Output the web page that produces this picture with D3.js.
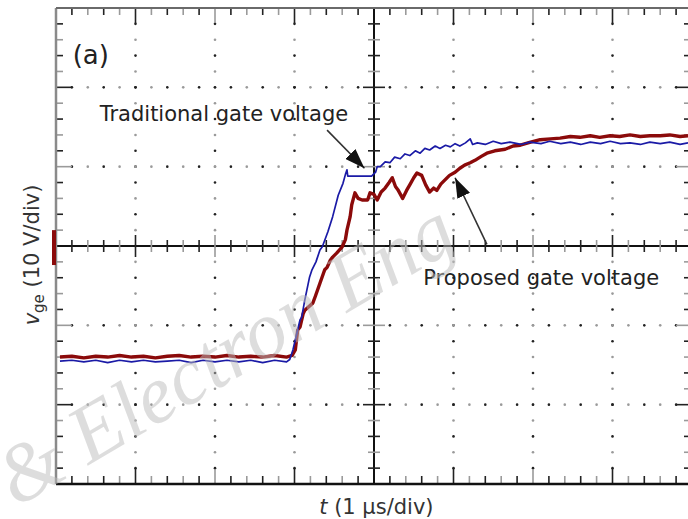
<!DOCTYPE html>
<html>
<head>
<meta charset="utf-8">
<script src="https://cdn.jsdelivr.net/npm/d3@7"></script>
<style>
  body { margin: 0; background: #fff; }
  svg { display: block; }
</style>
</head>
<body>
<div id="container"></div>
<script>
/* DATA (t in µs, v in volts) */
// traditional gate voltage (blue)
const blueT = [-3.95,-3.8,-3.65,-3.5,-3.35,-3.2,-3.05,-2.9,-2.75,-2.6,-2.45,-2.3,-2.15,-2.0,-1.85,-1.7,-1.55,-1.4,-1.25,-1.1,
  -1.06,-1.02,-0.97,-0.93,-0.91,-0.87,-0.81,-0.78,-0.73,-0.68,-0.65,-0.58,-0.52,-0.45,-0.39,-0.36,-0.34,-0.33,-0.03,
  0.02,0.04,0.08,0.14,0.20,0.26,0.33,0.39,0.45,0.52,0.58,0.64,0.70,0.77,0.83,0.90,0.96,1.02,1.08,1.15,1.21,1.24,1.30,
  1.40,1.50,1.60,1.71,1.85,1.96,2.10,2.21,2.35,2.47,2.60,2.72,2.85,2.97,3.10,3.22,3.35,3.47,3.60,3.72,3.85,3.95]
const blueV = [-14.5,-14.4,-14.6,-14.4,-14.7,-14.4,-14.6,-14.4,-14.6,-14.5,-14.4,-14.7,-14.4,-14.6,-14.4,-14.6,-14.4,-14.7,-14.4,-14.6,
  -14.3,-13.1,-11.0,-9.3,-9.0,-6.8,-3.9,-3.0,-2.0,-0.5,-0.1,1.8,3.7,6.4,7.9,9.0,9.6,8.8,8.8,
  9.3,10.0,10.0,10.6,10.5,11.2,11.0,11.6,11.4,12.0,11.7,12.3,12.1,12.6,12.3,12.7,12.5,12.9,12.6,13.0,13.5,12.8,13.0,
  12.8,13.2,12.9,13.1,12.8,13.1,12.9,13.2,12.9,13.1,12.8,13.1,12.9,13.2,12.9,13.0,12.8,13.1,12.9,13.1,12.8,13.0]

// proposed gate voltage (dark red)
const redT = [-3.95,-3.8,-3.65,-3.5,-3.35,-3.2,-3.05,-2.9,-2.75,-2.6,-2.45,-2.3,-2.15,-2.0,-1.85,-1.7,-1.55,-1.4,-1.25,-1.1,
  -1.03,-0.99,-0.96,-0.93,-0.89,-0.87,-0.77,-0.74,-0.68,-0.62,-0.59,-0.55,-0.52,-0.47,-0.40,-0.36,-0.34,-0.30,-0.28,-0.24,
  -0.20,-0.15,-0.08,-0.05,0.00,0.04,0.09,0.14,0.19,0.23,0.27,0.30,0.36,0.41,0.45,0.50,0.54,0.60,0.65,0.70,0.75,0.79,0.84,
  0.89,0.95,1.02,1.08,1.14,1.21,1.27,1.35,1.42,1.52,1.65,1.75,1.84,1.97,2.09,2.22,2.34,2.47,2.59,2.72,2.84,2.97,3.09,
  3.22,3.35,3.47,3.60,3.72,3.85,3.95]
const redV = [-14.0,-13.9,-14.1,-13.9,-14.0,-13.8,-14.0,-13.9,-14.1,-13.9,-13.8,-14.0,-13.9,-14.0,-13.8,-14.0,-13.9,-14.0,-13.8,-14.0,
  -13.8,-13.1,-10.6,-10.2,-8.5,-8.1,-7.2,-6.4,-4.7,-3.0,-2.7,-1.8,-1.4,-0.9,-0.1,0.8,2.0,3.7,5.2,6.7,
  6.0,5.8,5.8,6.7,6.5,5.8,6.8,7.3,8.0,8.6,7.5,7.1,6.0,7.0,7.7,8.6,9.2,8.9,7.7,6.8,7.3,7.0,7.8,
  8.3,8.9,9.3,9.8,10.2,10.5,10.8,11.3,11.7,12.0,12.2,12.6,12.7,13.1,13.4,13.5,13.6,13.8,13.7,13.9,13.7,13.9,13.8,
  14.0,13.8,13.9,13.9,14.0,13.8,13.9]

// screen divisions: 1 µs/div horizontally, 10 V/div vertically
const tDivs = [-4,-3,-2,-1,0,1,2,3,4]
const vDivs = [-30,-20,-10,0,10,20,30]

/* CONSTANTS */
const width = 688
const height = 519
const margin = { top: 8, bottom: 35, left: 56, right: -4 }

/* SCALES */
const xScale = d3.scaleLinear()
  .domain([-4, 4])
  .range([margin.left, width - margin.right])

const yScale = d3.scaleLinear()
  .domain([-30, 30])
  .range([height - margin.bottom, margin.top])

// 5 sub-divisions per division
const tMinor = d3.range(0, 41).map(i => -4 + i * 0.2)
const vMinor = d3.range(0, 31).map(i => -30 + i * 2)
const dark = "#222", light = "#9a9a9a"

/* SVG */
const svg = d3.select("#container")
  .append("svg")
  .attr("width", width)
  .attr("height", height)

svg.append("defs").append("marker")
  .attr("id", "head")
  .attr("markerUnits", "userSpaceOnUse")
  .attr("markerWidth", 20).attr("markerHeight", 14)
  .attr("refX", 20).attr("refY", 7)
  .attr("orient", "auto")
  .append("path")
  .attr("d", "M0,0 L20,7 L0,14 Z")
  .attr("fill", "#111")

const x0 = xScale(-4), x1 = xScale(4), y0 = yScale(-30), y1 = yScale(30)

// grid dots on the inner division lines
const grid = svg.append("g")
vDivs.filter(v => v !== -30 && v !== 0 && v !== 30).forEach(v => {
  grid.selectAll(null)
    .data(tMinor.map((t, i) => ({ t, i })).filter(d => d.i > 0 && d.i < 40))
    .join("circle")
    .attr("cx", d => xScale(d.t))
    .attr("cy", yScale(v))
    .attr("r", 1.3)
    .attr("fill", d => d.i % 2 ? dark : light)
})
tDivs.filter(t => t !== -4 && t !== 0 && t !== 4).forEach(t => {
  grid.selectAll(null)
    .data(vMinor.map((v, i) => ({ v, i })).filter(d => d.i > 0 && d.i < 30))
    .join("circle")
    .attr("cx", xScale(t))
    .attr("cy", d => yScale(d.v))
    .attr("r", 1.3)
    .attr("fill", d => d.i % 2 ? dark : light)
})

// border ticks pointing inwards
const ticks = svg.append("g")
const tTicks = tMinor.map((t, i) => ({ t, i, major: i % 5 === 0 })).filter(d => d.i > 0 && d.i < 40)
const vTicks = vMinor.map((v, i) => ({ v, i, major: i % 5 === 0 })).filter(d => d.i > 0 && d.i < 30)

ticks.selectAll(".tt")
  .data(tTicks)
  .join("line")
  .attr("x1", d => xScale(d.t)).attr("x2", d => xScale(d.t))
  .attr("y1", y1).attr("y2", d => y1 + (d.major ? 15 : 7))
  .attr("stroke", d => d.i % 2 ? dark : light).attr("stroke-width", 1.6)
ticks.selectAll(".tb")
  .data(tTicks)
  .join("line")
  .attr("x1", d => xScale(d.t)).attr("x2", d => xScale(d.t))
  .attr("y1", y0).attr("y2", d => y0 - (d.major ? 15 : 8))
  .attr("stroke", d => d.i % 2 ? dark : light).attr("stroke-width", 1.6)
ticks.selectAll(".vl")
  .data(vTicks)
  .join("line")
  .attr("y1", d => yScale(d.v)).attr("y2", d => yScale(d.v))
  .attr("x1", x0).attr("x2", d => x0 + (d.major ? 16 : 7))
  .attr("stroke", d => d.i % 2 ? dark : light).attr("stroke-width", 1.6)
ticks.selectAll(".vr")
  .data(vTicks)
  .join("line")
  .attr("y1", d => yScale(d.v)).attr("y2", d => yScale(d.v))
  .attr("x1", x1).attr("x2", d => x1 - (d.major ? 16 : 8))
  .attr("stroke", d => d.i % 2 ? dark : light).attr("stroke-width", 1.6)

// centre cross axes
ticks.append("line")
  .attr("x1", x0).attr("x2", x1)
  .attr("y1", yScale(0)).attr("y2", yScale(0))
  .attr("stroke", "#111").attr("stroke-width", 2)
ticks.append("line")
  .attr("x1", xScale(0)).attr("x2", xScale(0))
  .attr("y1", y1).attr("y2", y0)
  .attr("stroke", "#111").attr("stroke-width", 2)
ticks.selectAll(".ch")
  .data(tTicks)
  .join("line")
  .attr("x1", d => xScale(d.t)).attr("x2", d => xScale(d.t))
  .attr("y1", d => yScale(0) - (d.major ? 11 : 6)).attr("y2", d => yScale(0) + (d.major ? 11 : 6))
  .attr("stroke", d => d.i % 2 ? dark : light).attr("stroke-width", 1.6)
ticks.selectAll(".cv")
  .data(vTicks)
  .join("line")
  .attr("y1", d => yScale(d.v)).attr("y2", d => yScale(d.v))
  .attr("x1", d => xScale(0) - (d.major ? 11 : 6)).attr("x2", d => xScale(0) + (d.major ? 11 : 6))
  .attr("stroke", d => d.i % 2 ? dark : light).attr("stroke-width", 1.6)

// frame
svg.append("line").attr("x1", x0).attr("x2", x0).attr("y1", y1).attr("y2", y0)
  .attr("stroke", "#8a8a8a").attr("stroke-width", 2.5)
svg.append("line").attr("x1", x0).attr("x2", x1).attr("y1", y1).attr("y2", y1)
  .attr("stroke", "#6a6a6a").attr("stroke-width", 2)
svg.append("line").attr("x1", x0).attr("x2", x1).attr("y1", y0).attr("y2", y0)
  .attr("stroke", "#111").attr("stroke-width", 2.5)

// channel ground marker
svg.append("line")
  .attr("x1", x0 - 2).attr("x2", x0 - 2)
  .attr("y1", yScale(2)).attr("y2", yScale(-2.4))
  .attr("stroke", "#8b0a0a").attr("stroke-width", 4)

/* TRACES */
const line = d3.line()
  .x(d => xScale(d[0]))
  .y(d => yScale(d[1]))

svg.append("path")
  .datum(redT.map((t, i) => [t, redV[i]]))
  .attr("d", line)
  .attr("fill", "none")
  .attr("stroke", "#8b0a0a")
  .attr("stroke-width", 3.4)
  .attr("stroke-linejoin", "round")

svg.append("path")
  .datum(blueT.map((t, i) => [t, blueV[i]]))
  .attr("d", line)
  .attr("fill", "none")
  .attr("stroke", "#1a1aa6")
  .attr("stroke-width", 1.7)
  .attr("stroke-linejoin", "round")

/* ANNOTATIONS */
const font = "DejaVu Sans, Verdana, sans-serif"

svg.append("text")
  .attr("x", xScale(-3.79)).attr("y", yScale(22.9))
  .attr("font-family", font).attr("font-size", 26).attr("fill", "#222")
  .text("(a)")

svg.append("text")
  .attr("x", xScale(-3.45)).attr("y", yScale(15.7))
  .attr("font-family", font).attr("font-size", 21).attr("fill", "#222")
  .text("Traditional gate voltage")

svg.append("text")
  .attr("x", xScale(0.62)).attr("y", yScale(-4.9))
  .attr("font-family", font).attr("font-size", 21).attr("fill", "#222")
  .text("Proposed gate voltage")

svg.append("line")
  .attr("x1", xScale(-0.59)).attr("y1", yScale(14.6))
  .attr("x2", xScale(-0.12)).attr("y2", yScale(9.8))
  .attr("stroke", "#333").attr("stroke-width", 1.6)
  .attr("marker-end", "url(#head)")

svg.append("line")
  .attr("x1", xScale(1.42)).attr("y1", yScale(0.2))
  .attr("x2", xScale(1.02)).attr("y2", yScale(8.6))
  .attr("stroke", "#333").attr("stroke-width", 1.6)
  .attr("marker-end", "url(#head)")

// axis labels
const yl = svg.append("text")
  .attr("transform", `translate(39,255) rotate(-90)`)
  .attr("text-anchor", "middle")
  .attr("font-family", font).attr("font-size", 21).attr("fill", "#333")
yl.append("tspan").attr("font-style", "italic").text("v")
yl.append("tspan").attr("font-size", 15).attr("dy", 5).text("ge")
yl.append("tspan").attr("dy", -5).text(" (10 V/div)")

const xl = svg.append("text")
  .attr("x", xScale(0.03)).attr("y", 514)
  .attr("text-anchor", "middle")
  .attr("font-family", font).attr("font-size", 21).attr("fill", "#333")
xl.append("tspan").attr("font-style", "italic").text("t")
xl.append("tspan").text(" (1 µs/div)")

// watermark
svg.append("text")
  .attr("transform", "translate(16,508) rotate(-30.5)")
  .attr("font-family", "Liberation Serif, serif")
  .attr("font-style", "italic")
  .attr("font-size", 82)
  .attr("fill", "#bdbdbd")
  .attr("opacity", 0.5)
  .text("& Electron Eng")
</script>
</body>
</html>
